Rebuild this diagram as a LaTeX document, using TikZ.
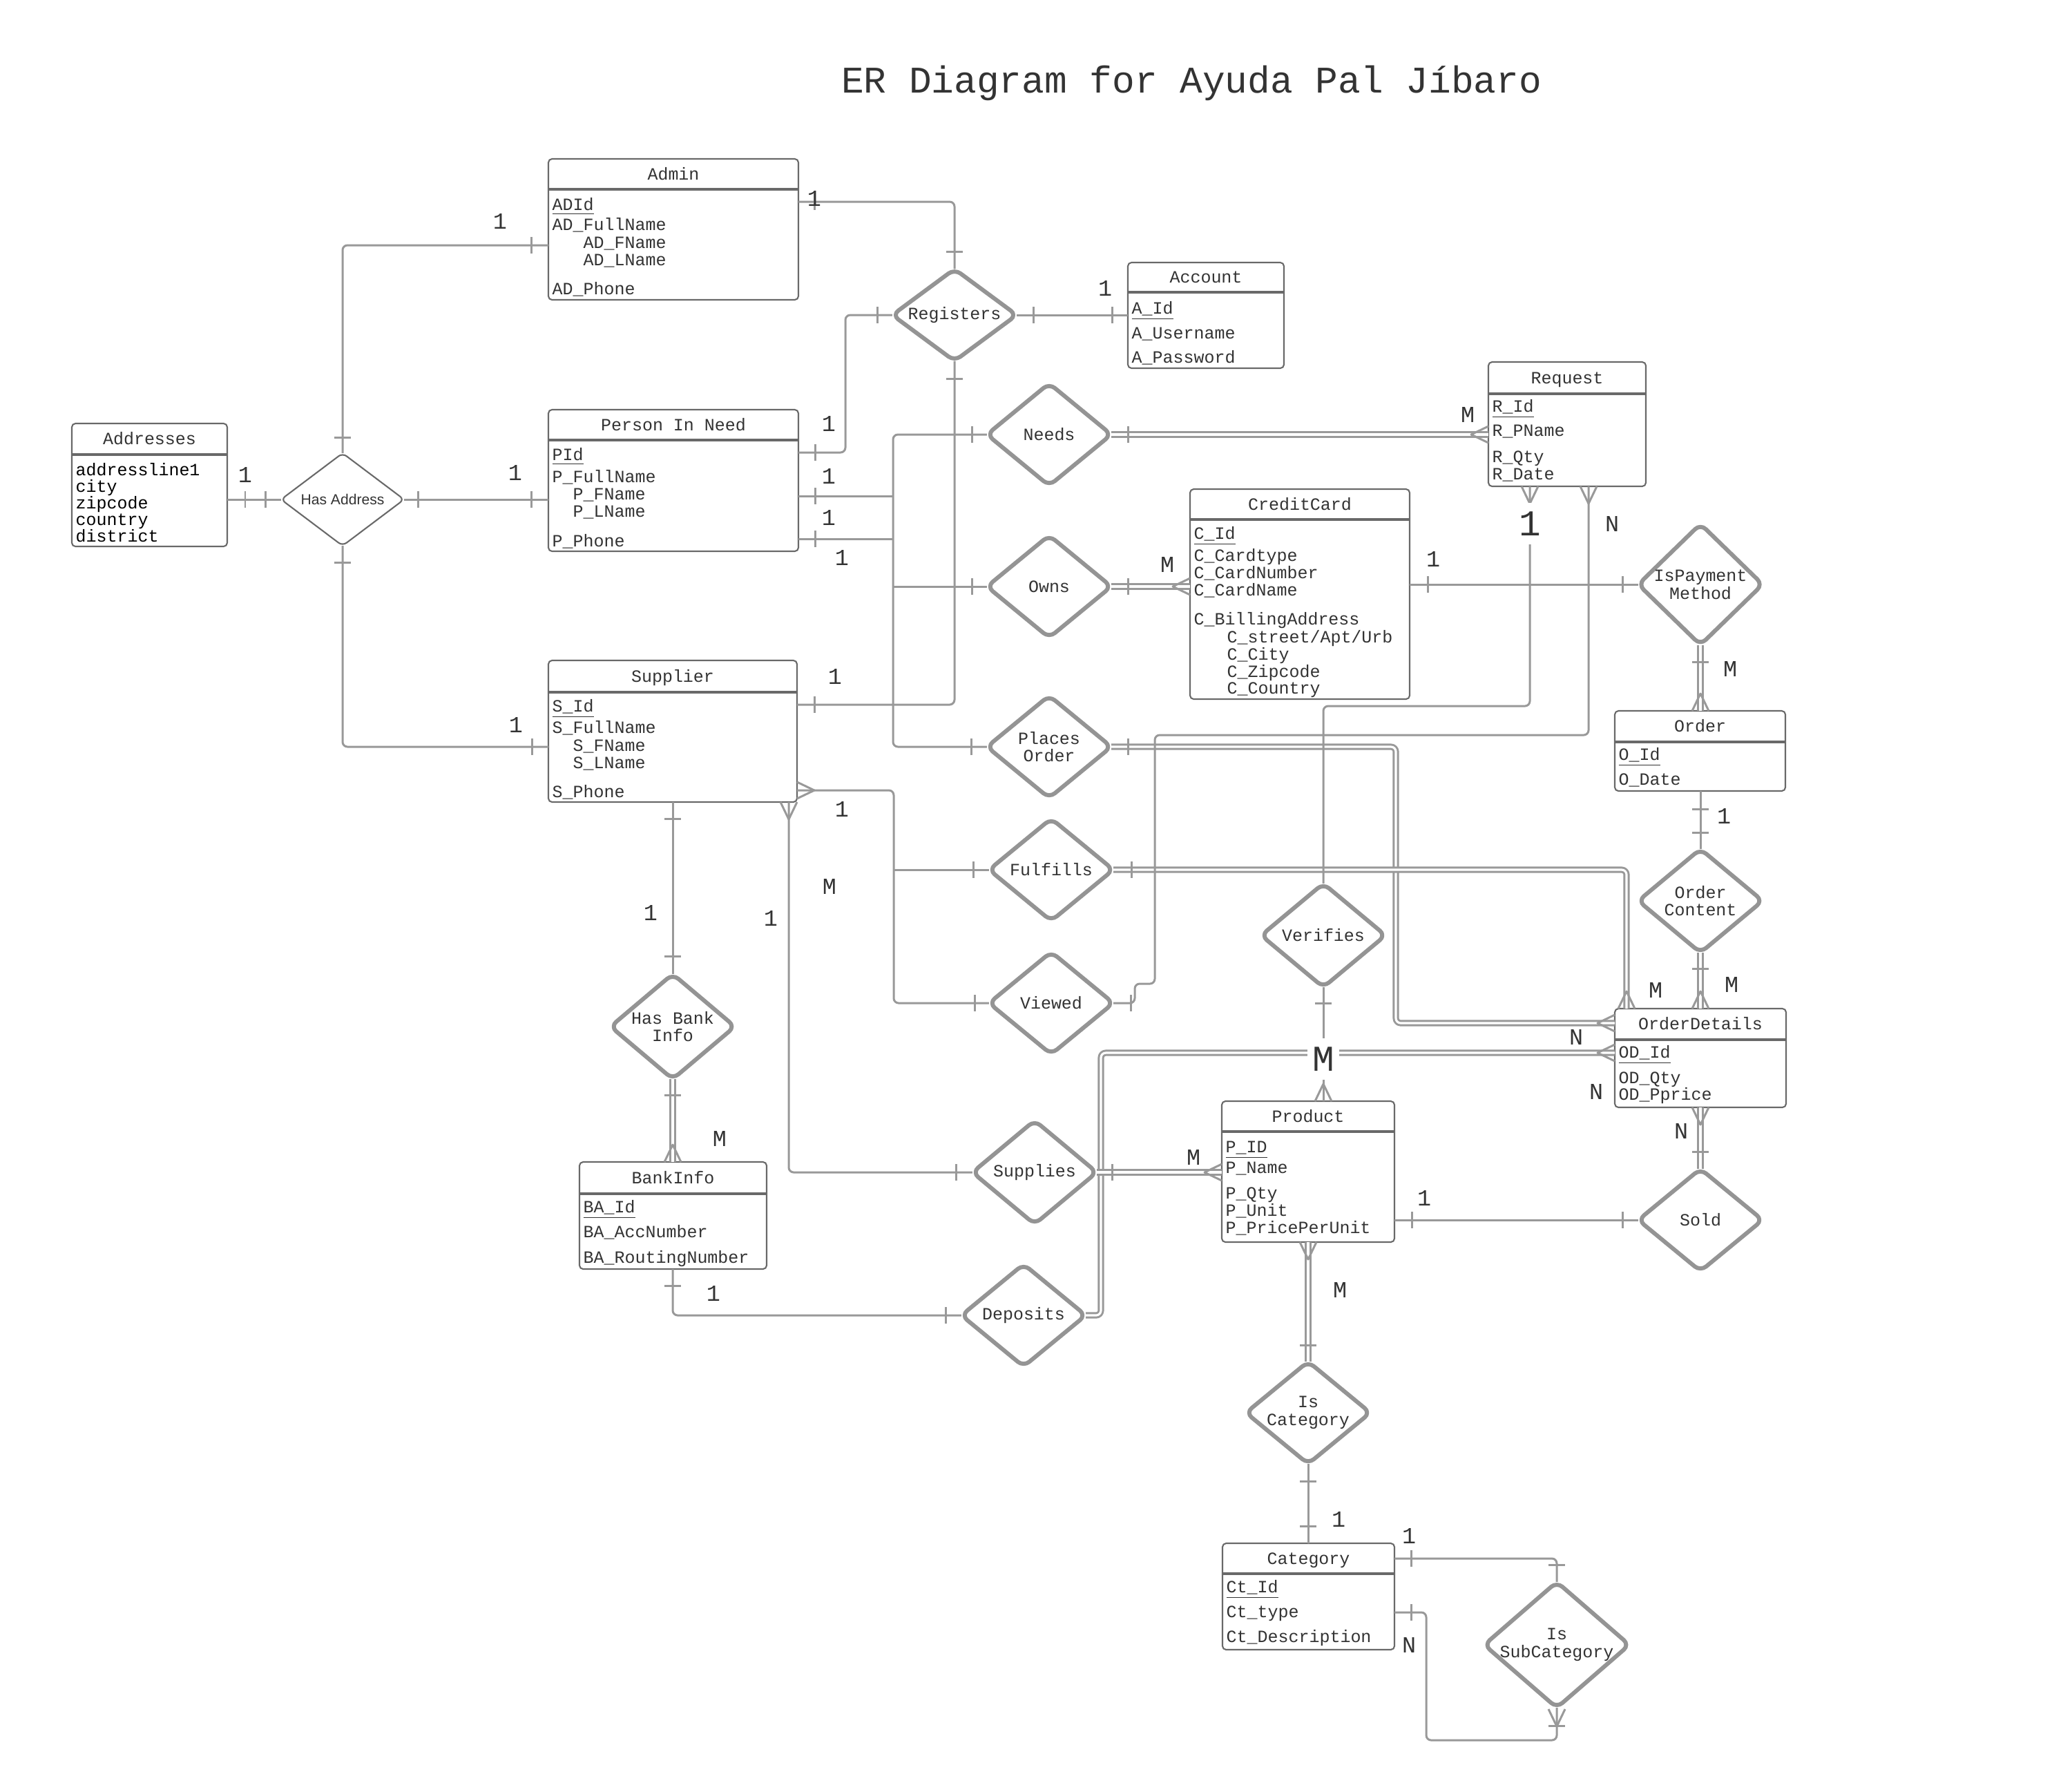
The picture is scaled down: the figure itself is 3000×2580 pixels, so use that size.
\documentclass[tikz,border=0pt]{standalone}
\usepackage{fontspec}
\setmainfont{Liberation Mono}
\newfontfamily\labelsans{Liberation Sans}
\usetikzlibrary{shapes.geometric,positioning,fit,calc}

\definecolor{linkgray}{RGB}{153,153,153}
\definecolor{relgray}{RGB}{148,148,148}
\definecolor{entgray}{RGB}{105,105,105}
\definecolor{inkgray}{RGB}{51,51,51}

\newcommand{\tickmark}[2]{\draw[link, shift={#1}, rotate=#2] (0,-12) -- (0,12);}
\newcommand{\crowfoot}[2]{\draw[link, sharp corners, shift={#1}, rotate=#2] (0,-12) -- (25,0) -- (0,12);}
\newcommand{\entity}[7]{%
  \node[entbox, fit={(#2,#3) (#4,#6)}] (#1) {};
  \draw[entsep] (#2,#5) -- (#4,#5);
  \node[enttitle] (#1-title) at ($(#2,#3)!.5!(#4,#5)$) {#7};}

\begin{document}
\begin{tikzpicture}[x=0.01cm, y=-0.01cm, line join=round]
	\tikzstyle{link}=[draw=linkgray, line width=0.85pt, rounded corners=2pt]
	\tikzstyle{dbl}=[link, double=white, double distance=0.9pt]
	\tikzstyle{rel}=[diamond, draw=relgray, line width=1.7pt, rounded corners=3pt, inner sep=0pt, outer sep=0pt, minimum width=1.8cm, minimum height=1.48cm]
	\tikzstyle{reltext}=[font=\fontsize{7.1}{7.3}\selectfont, text=inkgray, align=center, inner sep=0pt]
	\tikzstyle{entbox}=[draw=entgray, line width=0.6pt, rounded corners=1.5pt, inner sep=0pt, outer sep=0pt]
	\tikzstyle{entsep}=[draw=entgray, line width=0.9pt]
	\tikzstyle{enttitle}=[font=\fontsize{7.1}{8}\selectfont, text=inkgray, anchor=base, yshift=-2.3pt, inner sep=0pt]
	\tikzstyle{attr}=[font=\fontsize{7.1}{8}\selectfont, text=inkgray, anchor=base west, yshift=-2.3pt, inner sep=0pt]
	\tikzstyle{card}=[font=\fontsize{9.5}{11}\selectfont, text=inkgray, inner sep=0pt]
	\tikzstyle{bigcard}=[font=\fontsize{15}{17}\selectfont, text=inkgray, fill=white, inner sep=2pt, minimum height=0.6cm]

	\path[fill=white] (0,0) rectangle (3000,2580);

	\node[font=\fontsize{15.5}{18}\selectfont, text=inkgray] (title) at (1725,120) {ER Diagram for Ayuda Pal Jíbaro};

	% Entities
	\entity{admin}{794}{230}{1156}{274}{434}{Admin}
	\entity{account}{1633}{380}{1859}{423}{533}{Account}
	\entity{addr}{104}{613}{329}{658}{791}{Addresses}
	\entity{needy}{794}{593}{1156}{637}{798}{Person In Need}
	\entity{request}{2155}{524}{2383}{570}{704}{Request}
	\entity{cc}{1723}{708}{2041}{752}{1012}{CreditCard}
	\entity{supplier}{794}{956}{1154}{1002}{1161}{Supplier}
	\entity{order}{2338}{1029}{2585}{1074}{1145}{Order}
	\entity{od}{2338}{1460}{2586}{1505}{1603}{OrderDetails}
	\entity{product}{1769}{1594}{2019}{1638}{1798}{Product}
	\entity{bankinfo}{839}{1682}{1110}{1728}{1837}{BankInfo}
	\entity{category}{1770}{2234}{2019}{2278}{2388}{Category}

	% Attributes
	\foreach \xx/\yy/\txt [count=\i] in {799/296/{\underline{ADId}}, 799/325/AD\_FullName, 844/351/AD\_FName, 844/376/AD\_LName, 799/418/AD\_Phone}
	\node[attr] (admin-a\i) at (\xx,\yy) {\txt};
	\foreach \xx/\yy/\txt [count=\i] in {1638/446/{\underline{A\_Id}}, 1638/482/A\_Username, 1638/517/A\_Password}
	\node[attr] (account-a\i) at (\xx,\yy) {\txt};
	\foreach \xx/\yy/\txt [count=\i] in {109/680/addressline1, 109/704/city, 109/728/zipcode, 109/752/country, 109/776/district}
	\node[attr, text=black] (addr-a\i) at (\xx,\yy) {\txt};
	\foreach \xx/\yy/\txt [count=\i] in {799/658/{\underline{PId}}, 799/690/P\_FullName, 829/715/P\_FName, 829/740/P\_LName, 799/783/P\_Phone}
	\node[attr] (needy-a\i) at (\xx,\yy) {\txt};
	\foreach \xx/\yy/\txt [count=\i] in {2160/588/{\underline{R\_Id}}, 2160/623/R\_PName, 2160/661/R\_Qty, 2160/686/R\_Date}
	\node[attr] (request-a\i) at (\xx,\yy) {\txt};
	\foreach \xx/\yy/\txt [count=\i] in {1728/772/{\underline{C\_Id}}, 1728/804/C\_Cardtype, 1728/829/C\_CardNumber, 1728/854/C\_CardName, 1728/896/C\_BillingAddress, 1776/922/{C\_street/Apt/Urb}, 1776/947/C\_City, 1776/972/C\_Zipcode, 1776/996/C\_Country}
	\node[attr] (cc-a\i) at (\xx,\yy) {\txt};
	\foreach \xx/\yy/\txt [count=\i] in {799/1022/{\underline{S\_Id}}, 799/1053/S\_FullName, 829/1079/S\_FName, 829/1104/S\_LName, 799/1146/S\_Phone}
	\node[attr] (supplier-a\i) at (\xx,\yy) {\txt};
	\foreach \xx/\yy/\txt [count=\i] in {2343/1092/{\underline{O\_Id}}, 2343/1128/O\_Date}
	\node[attr] (order-a\i) at (\xx,\yy) {\txt};
	\foreach \xx/\yy/\txt [count=\i] in {2343/1523/{\underline{OD\_Id}}, 2343/1560/OD\_Qty, 2343/1584/OD\_Pprice}
	\node[attr] (od-a\i) at (\xx,\yy) {\txt};
	\foreach \xx/\yy/\txt [count=\i] in {1774/1660/{\underline{P\_ID}}, 1774/1690/P\_Name, 1774/1727/P\_Qty, 1774/1752/P\_Unit, 1774/1777/P\_PricePerUnit}
	\node[attr] (product-a\i) at (\xx,\yy) {\txt};
	\foreach \xx/\yy/\txt [count=\i] in {844/1747/{\underline{BA\_Id}}, 844/1783/BA\_AccNumber, 844/1820/BA\_RoutingNumber}
	\node[attr] (bankinfo-a\i) at (\xx,\yy) {\txt};
	\foreach \xx/\yy/\txt [count=\i] in {1775/2297/{\underline{Ct\_Id}}, 1775/2333/Ct\_type, 1775/2369/Ct\_Description}
	\node[attr] (category-a\i) at (\xx,\yy) {\txt};

	% Relationships
	\node[rel, draw=entgray, line width=0.6pt, rounded corners=2pt, minimum width=1.78cm, minimum height=1.34cm, label={[reltext, font={\labelsans\fontsize{6}{7}\selectfont}]center:Has Address}] (hasaddr) at (496,723) {};
	\node[rel, minimum height=1.33cm, label={[reltext]center:Registers}] (registers) at (1382,456) {};
	\node[rel, label={[reltext]center:Needs}] (needs) at (1519,629) {};
	\node[rel, label={[reltext]center:Owns}] (owns) at (1519,849) {};
	\node[rel, label={[reltext]center:Places\\Order}] (places) at (1519,1081) {};
	\node[rel, label={[reltext]center:Fulfills}] (fulfills) at (1522,1259) {};
	\node[rel, label={[reltext]center:Viewed}] (viewed) at (1522,1452) {};
	\node[rel, minimum height=1.5cm, label={[reltext]center:Verifies}] (verifies) at (1916,1354) {};
	\node[rel, minimum height=1.52cm, label={[reltext]center:Has Bank\\Info}] (hasbank) at (974,1486) {};
	\node[rel, minimum height=1.5cm, label={[reltext]center:Supplies}] (supplies) at (1498,1697) {};
	\node[rel, label={[reltext]center:Deposits}] (deposits) at (1482,1904) {};
	\node[rel, minimum height=1.75cm, label={[reltext]center:IsPayment\\Method}] (ispay) at (2462,846) {};
	\node[rel, minimum height=1.5cm, label={[reltext]center:Order\\Content}] (ordercontent) at (2462,1304) {};
	\node[rel, label={[reltext]center:Sold}] (sold) at (2462,1766) {};
	\node[rel, label={[reltext]center:Is\\Category}] (iscat) at (1894,2045) {};
	\node[rel, minimum width=2.1cm, minimum height=1.82cm, label={[reltext]center:Is\\SubCategory}] (issub) at (2254,2381) {};

	% Double connectors
	\draw[dbl] (needs.east) -- (request.west |- needs.east);
	\draw[dbl] (owns.east) -- (cc.west |- owns.east);
	\draw[dbl] (places.east) -- (2021,1081) |- (od.west |- 0,1481);
	\draw[dbl] (fulfills.east) -| (od.north -| 2355,0);
	\draw[dbl] (deposits.east) -- (1594,1904) |- (od.west |- 0,1524);
	\draw[dbl] (supplies.east) -- (product.west |- supplies.east);
	\draw[dbl] (hasbank.south) -- (bankinfo.north -| hasbank.south);
	\draw[dbl] (ispay.south) -- (order.north -| ispay.south);
	\draw[dbl] (ordercontent.south) -- (od.north -| ordercontent.south);
	\draw[dbl] (sold.north) -- (od.south -| sold.north);
	\draw[dbl] (product.south -| iscat.north) -- (iscat.north);

	% Single connectors
	\draw[link] (admin.west |- 0,355) -| (hasaddr.north);
	\draw[link] (addr.east |- 0,723) -- (hasaddr.west);
	\draw[link] (hasaddr.east) -- (needy.west |- hasaddr.east);
	\draw[link] (hasaddr.south) |- (supplier.west |- 0,1081);
	\draw[link] (admin.east |- 0,292) -| (registers.north);
	\draw[link] (needy.east |- 0,655) -- (1224,655) |- (registers.west);
	\draw[link] (registers.east) -- (account.west |- registers.east);
	\draw[link] (registers.south) |- (supplier.east |- 0,1020);
	\draw[link] (needs.west) -- (1293,629) -- (1293,1081) -- (places.west);
	\draw[link] (needy.east |- 0,718) -- (1293,718);
	\draw[link] (needy.east |- 0,780) -- (1293,780);
	\draw[link] (1293,849) -- (owns.west);
	\draw[link] (cc.east |- ispay.west) -- (ispay.west);
	\draw[link] (request.south -| 2215,0) -- (2215,1022) -| (verifies.north);
	\draw[link] (request.south -| 2300,0) -- (2300,1064) -- (1672,1064) -- (1672,1424) -- (1643,1424) -- (1643,1452) -- (viewed.east);
	\draw[link] (supplier.east |- 0,1144) -- (1294,1144) |- (viewed.west);
	\draw[link] (1294,1259) -- (fulfills.west);
	\draw[link] (supplier.south -| 1142,0) |- (supplies.west);
	\draw[link] (supplier.south -| hasbank.north) -- (hasbank.north);
	\draw[link] (bankinfo.south -| 974,0) |- (deposits.west);
	\draw[link] (verifies.south) -- (product.north -| verifies.south);
	\draw[link] (product.east |- sold.west) -- (sold.west);
	\draw[link] (order.south -| ordercontent.north) -- (ordercontent.north);
	\draw[link] (iscat.south) -- (category.north -| iscat.south);
	\draw[link] (category.east |- 0,2256) -| (issub.north);
	\draw[link] (category.east |- 0,2334) -- (2065,2334) |- (2254,2519) -- (issub.south);

	% One marks
	\foreach \tx/\ty/\rot in {769/355/0, 496/633/90, 355/723/0, 384/723/0, 605/723/0, 769/723/0, 496/814/90, 770/1081/0,
		1179/292/0, 1382/364/90, 1180/655/0, 1270/456/0, 1496/456/0, 1610/456/0, 1382/548/90, 1179/1020/0,
		1180/718/0, 1180/780/0, 1407/629/0, 1407/849/0, 1406/1081/0, 1633/629/0, 1633/849/0, 2067/846/0, 2349/846/0,
		1637/1452/0, 1409/1259/0, 1411/1452/0, 1384/1697/0, 974/1185/90, 974/1384/90, 974/1585/90, 974/1861/90, 1369/1904/0,
		1916/1452/90, 1633/1081/0, 1638/1259/0, 1610/1697/0, 2044/1766/0, 2349/1766/0, 2462/1667/90, 2462/1402/90,
		2462/1171/90, 2462/1205/90, 2462/958/90, 1894/1947/90, 1894/2144/90, 1894/2209/90, 2043/2256/0, 2254/2265/90,
		2043/2334/0, 2254/2498/90}
	{\tickmark{(\tx,\ty)}{\rot}}

	% Many marks
	\foreach \cx/\cy/\rot in {2155/629/180, 1723/849/180, 2215/704/-90, 2300/704/-90, 1154/1144/0, 1142/1161/-90,
		974/1682/90, 2338/1524/180, 1916/1594/90, 2338/1481/180, 2355/1460/90, 1769/1697/180, 2462/1603/-90,
		2462/1460/90, 2462/1029/90, 1894/1798/-90, 2254/2474/-90}
	{\crowfoot{(\cx,\cy)}{\rot}}

	% Cardinalities
	\foreach \lx/\ly/\lt [count=\i] in {724/320/1, 355/687/1, 746/684/1, 747/1049/1, 1179/287/1, 1200/613/1, 1600/417/1,
		1209/979/1, 1200/689/1, 1200/749/1, 1219/807/1, 2125/600/M, 1690/817/M, 2075/809/1, 2334/758/N, 2505/968/M,
		2496/1181/1, 1219/1171/1, 1116/1329/1, 1201/1283/M, 942/1321/1, 1042/1648/M, 1033/1872/1, 2397/1433/M,
		2507/1425/M, 2282/1501/N, 2311/1580/N, 2434/1637/N, 1728/1675/M, 2062/1734/1, 1940/1867/M, 1938/2199/1,
		2040/2223/1, 2040/2381/N}
	\node[card] (card-\i) at (\lx,\ly) {\lt};
	\node[bigcard] (card-big1) at (2215,758) {1};
	\node[bigcard] (card-bigM) at (1916,1533) {M};
\end{tikzpicture}
\end{document}
